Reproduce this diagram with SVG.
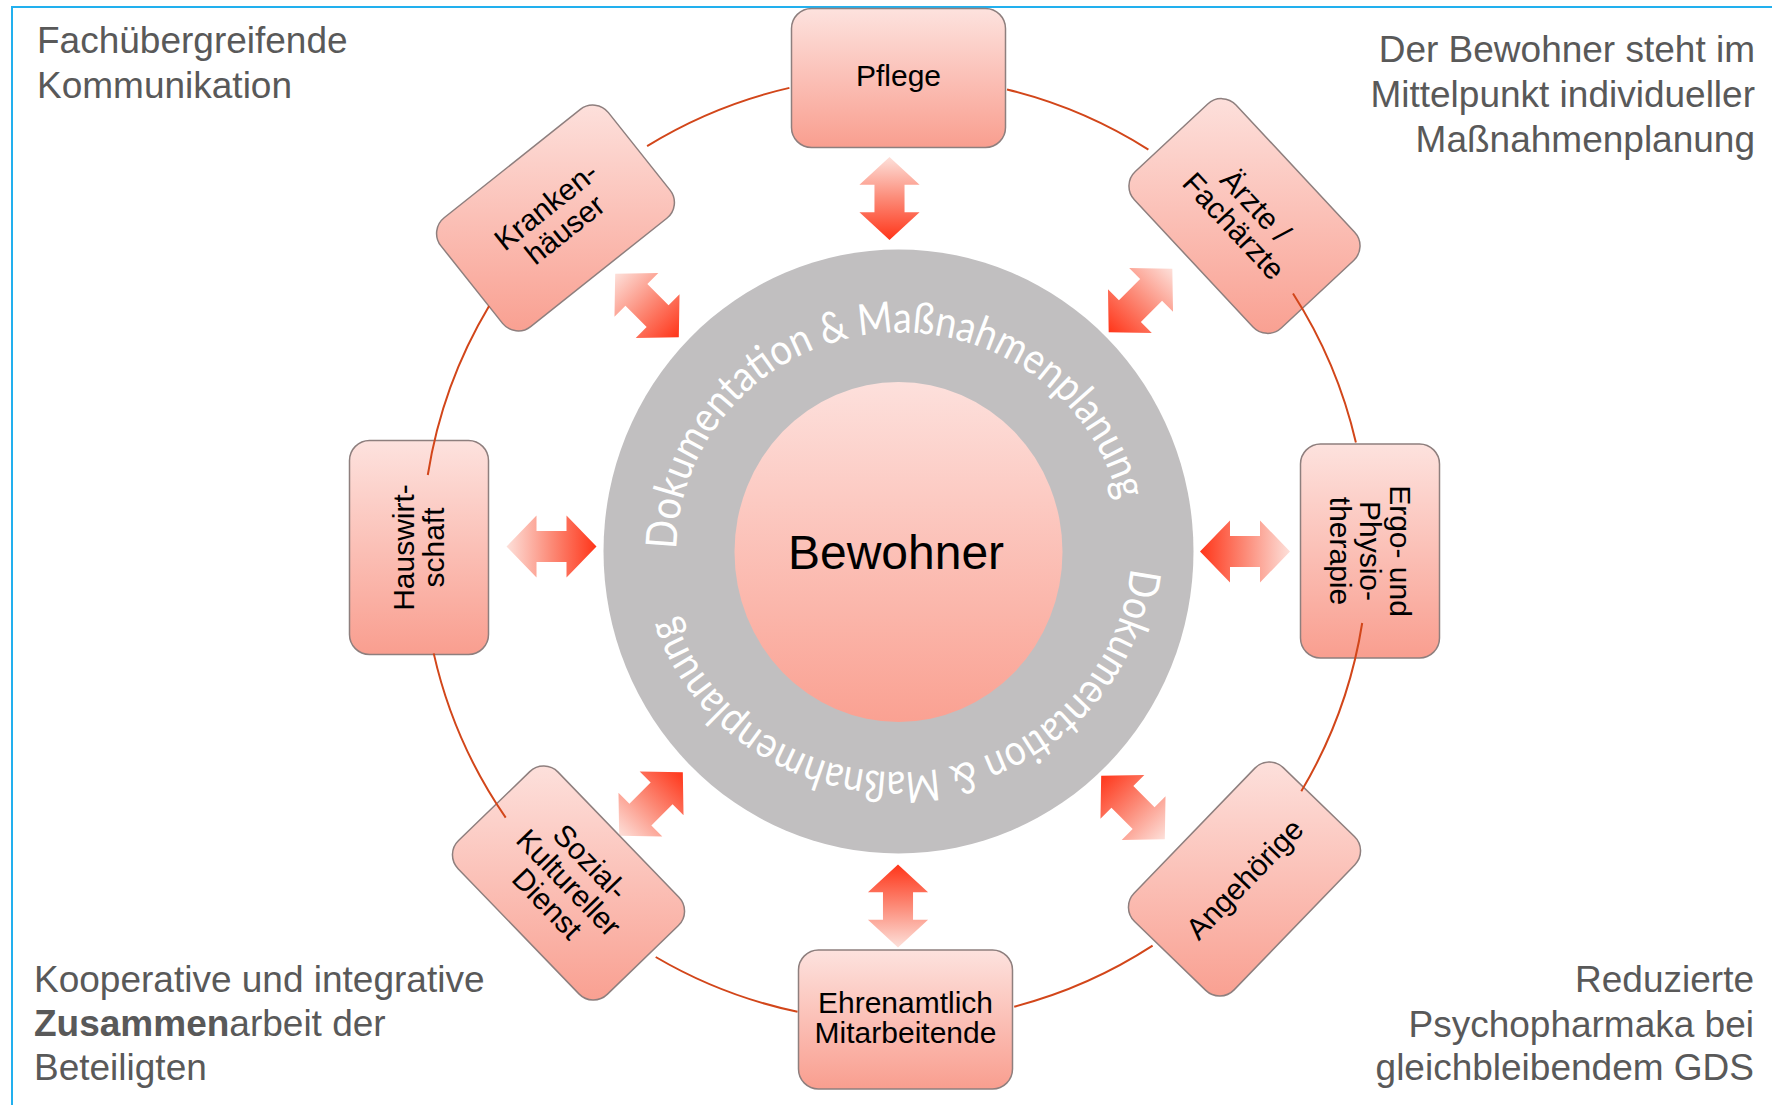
<svg xmlns="http://www.w3.org/2000/svg" xmlns:xlink="http://www.w3.org/1999/xlink" width="1772" height="1105" viewBox="0 0 1772 1105">
<style>
.corner{font-family:"Liberation Sans",Arial,sans-serif;font-size:37px;fill:#595959}
.lbl{font-family:"Liberation Sans",Arial,sans-serif;font-size:30px;fill:#000;text-anchor:middle}
.box{stroke:#8e7f7e;stroke-width:1.5}
.conn{fill:none;stroke:#d2461a;stroke-width:2}
.ring{font-family:Lato,"Open Sans",sans-serif;font-size:43px;fill:#fff}
</style>
<defs>
<linearGradient id="boxG" x1="0" y1="0" x2="0" y2="1">
<stop offset="0" stop-color="#fde2de"/>
<stop offset="1" stop-color="#f99e8f"/>
</linearGradient>
<linearGradient id="g-h" xlink:href="#boxG" gradientUnits="userSpaceOnUse" x1="0" y1="-69.5" x2="0" y2="69.5"/>
<linearGradient id="g-kr" xlink:href="#boxG" gradientUnits="userSpaceOnUse" x1="0" y1="-121" x2="0" y2="121" gradientTransform="rotate(38.5)"/>
<linearGradient id="g-ae" xlink:href="#boxG" gradientUnits="userSpaceOnUse" x1="0" y1="-126" x2="0" y2="126" gradientTransform="rotate(-47)"/>
<linearGradient id="g-an" xlink:href="#boxG" gradientUnits="userSpaceOnUse" x1="0" y1="-125" x2="0" y2="125" gradientTransform="rotate(46)"/>
<linearGradient id="g-so" xlink:href="#boxG" gradientUnits="userSpaceOnUse" x1="0" y1="-125" x2="0" y2="125" gradientTransform="rotate(-46)"/>
<linearGradient id="g-ha" xlink:href="#boxG" gradientUnits="userSpaceOnUse" x1="0" y1="-107" x2="0" y2="107" gradientTransform="rotate(90)"/>
<linearGradient id="g-er" xlink:href="#boxG" gradientUnits="userSpaceOnUse" x1="0" y1="-107" x2="0" y2="107" gradientTransform="rotate(-90)"/>
<linearGradient id="circG" x1="0" y1="0" x2="0" y2="1">
<stop offset="0" stop-color="#fde0dc"/>
<stop offset="1" stop-color="#faa192"/>
</linearGradient>
<linearGradient id="arrG" x1="0" y1="0" x2="1" y2="0">
<stop offset="0" stop-color="#fde0da"/>
<stop offset="0.5" stop-color="#fc8a77"/>
<stop offset="1" stop-color="#ff3519"/>
</linearGradient>
<path id="dbl" d="M-45,0 L-15,-31 L-15,-15.5 L15,-15.5 L15,-31 L45,0 L15,31 L15,15.5 L-15,15.5 L-15,31 Z" fill="url(#arrG)"/>
<path id="ringPath1" d="M676.5,551.5 A224,219 0 1 1 1124.5,551.5 A224,219 0 1 1 676.5,551.5"/>
<path id="ringPath2" d="M1131.5,548 A234,224 0 1 1 663.5,548 A234,224 0 1 1 1131.5,548"/>
</defs>

<rect x="12" y="7" width="1780" height="1120" fill="none" stroke="#22b0ee" stroke-width="2"/>

<g id="corner-texts">
<text class="corner" x="37" y="53">Fachübergreifende</text>
<text class="corner" x="37" y="98">Kommunikation</text>
<text class="corner" x="1755" y="62" text-anchor="end">Der Bewohner steht im</text>
<text class="corner" x="1755" y="107" text-anchor="end">Mittelpunkt individueller</text>
<text class="corner" x="1755" y="152" text-anchor="end">Maßnahmenplanung</text>
<text class="corner" x="34" y="992">Kooperative und integrative</text>
<text class="corner" x="34" y="1036"><tspan font-weight="bold">Zusammen</tspan>arbeit der</text>
<text class="corner" x="34" y="1080">Beteiligten</text>
<text class="corner" x="1754" y="992" text-anchor="end">Reduzierte</text>
<text class="corner" x="1754" y="1037" text-anchor="end">Psychopharmaka bei</text>
<text class="corner" x="1754" y="1080" text-anchor="end">gleichbleibendem GDS</text>
</g>

<g id="center">
<ellipse cx="898.5" cy="551.5" rx="295" ry="302" fill="#c1bfc0"/>
<text class="ring"><textPath xlink:href="#ringPath1" startOffset="2" textLength="642" lengthAdjust="spacingAndGlyphs">Dokumentation &amp; Maßnahmenplanung</textPath></text>
<text class="ring"><textPath xlink:href="#ringPath2" startOffset="20" textLength="630" lengthAdjust="spacingAndGlyphs">Dokumentation &amp; Maßnahmenplanung</textPath></text>
<ellipse cx="898.5" cy="552" rx="164" ry="170" fill="url(#circG)"/>
<text x="896" y="569" font-family="'Liberation Sans',Arial,sans-serif" font-size="48" text-anchor="middle" fill="#000">Bewohner</text>
</g>

<g id="arrows">
<use xlink:href="#dbl" transform="translate(889.5,198.5) rotate(90) scale(0.92,0.97)"/>
<use xlink:href="#dbl" transform="translate(898,906) rotate(-90) scale(0.92,0.97)"/>
<use xlink:href="#dbl" transform="translate(551.5,546.5)"/>
<use xlink:href="#dbl" transform="translate(1245,551.5) rotate(180)"/>
<use xlink:href="#dbl" transform="translate(647,305.5) rotate(45)"/>
<use xlink:href="#dbl" transform="translate(1140.5,300.5) rotate(135)"/>
<use xlink:href="#dbl" transform="translate(1133,807.5) rotate(-135)"/>
<use xlink:href="#dbl" transform="translate(651,804) rotate(-45)"/>
</g>

<g id="node-pflege" transform="translate(898.5,78)">
<rect class="box" x="-107" y="-69.5" width="214" height="139" rx="20" fill="url(#g-h)"/>
<text class="lbl" y="8">Pflege</text>
</g>
<g id="node-aerzte" transform="translate(1244.5,216) rotate(47)">
<rect class="box" x="-107" y="-69.5" width="214" height="139" rx="20" fill="url(#g-ae)"/>
<text class="lbl"><tspan x="0" y="-5">Ärzte /</tspan><tspan x="0" y="25">Fachärzte</tspan></text>
</g>
<g id="node-ergo" transform="translate(1370,551) rotate(90)">
<rect class="box" x="-107" y="-69.5" width="214" height="139" rx="20" fill="url(#g-er)"/>
<text class="lbl"><tspan x="0" y="-20">Ergo- und</tspan><tspan x="0" y="10">Physio-</tspan><tspan x="0" y="40">therapie</tspan></text>
</g>
<g id="node-angehoerige" transform="translate(1244.5,879) rotate(-46)">
<rect class="box" x="-107" y="-69.5" width="214" height="139" rx="20" fill="url(#g-an)"/>
<text class="lbl" y="10.5">Angehörige</text>
</g>
<g id="node-ehrenamtlich" transform="translate(905.5,1019.5)">
<rect class="box" x="-107" y="-69.5" width="214" height="139" rx="20" fill="url(#g-h)"/>
<text class="lbl"><tspan x="0" y="-7">Ehrenamtlich</tspan><tspan x="0" y="23">Mitarbeitende</tspan></text>
</g>
<g id="node-sozial" transform="translate(568.5,883) rotate(46)">
<rect class="box" x="-107" y="-69.5" width="214" height="139" rx="20" fill="url(#g-so)"/>
<text class="lbl"><tspan x="0" y="-20">Sozial-</tspan><tspan x="0" y="10">Kultureller</tspan><tspan x="0" y="40">Dienst</tspan></text>
</g>
<g id="node-hauswirtschaft" transform="translate(419,547.5) rotate(-90)">
<rect class="box" x="-107" y="-69.5" width="214" height="139" rx="20" fill="url(#g-ha)"/>
<text class="lbl"><tspan x="0" y="-5">Hauswirt-</tspan><tspan x="0" y="25">schaft</tspan></text>
</g>
<g id="node-krankenhaeuser" transform="translate(555.5,218) rotate(-38.5)">
<rect class="box" x="-107" y="-69.5" width="214" height="139" rx="20" fill="url(#g-kr)"/>
<text class="lbl"><tspan x="0" y="-5">Kranken-</tspan><tspan x="0" y="25">häuser</tspan></text>
</g>

<g id="connectors">
<path class="conn" d="M789.4,87.9 A473,473 0 0 0 647.1,146.1"/>
<path class="conn" d="M489.1,306.1 A473,473 0 0 0 427.8,475"/>
<path class="conn" d="M433.7,653.4 A473,473 0 0 0 505.7,817.6"/>
<path class="conn" d="M655.7,957 A473,473 0 0 0 797.5,1011.8"/>
<path class="conn" d="M1014.2,1006.7 A473,473 0 0 0 1152.6,945.7"/>
<path class="conn" d="M1301.3,791.2 A473,473 0 0 0 1362.2,623"/>
<path class="conn" d="M1355.9,442.6 A473,473 0 0 0 1293,293.5"/>
<path class="conn" d="M1148.4,149.6 A473,473 0 0 0 1007,89.5"/>
</g>
</svg>
